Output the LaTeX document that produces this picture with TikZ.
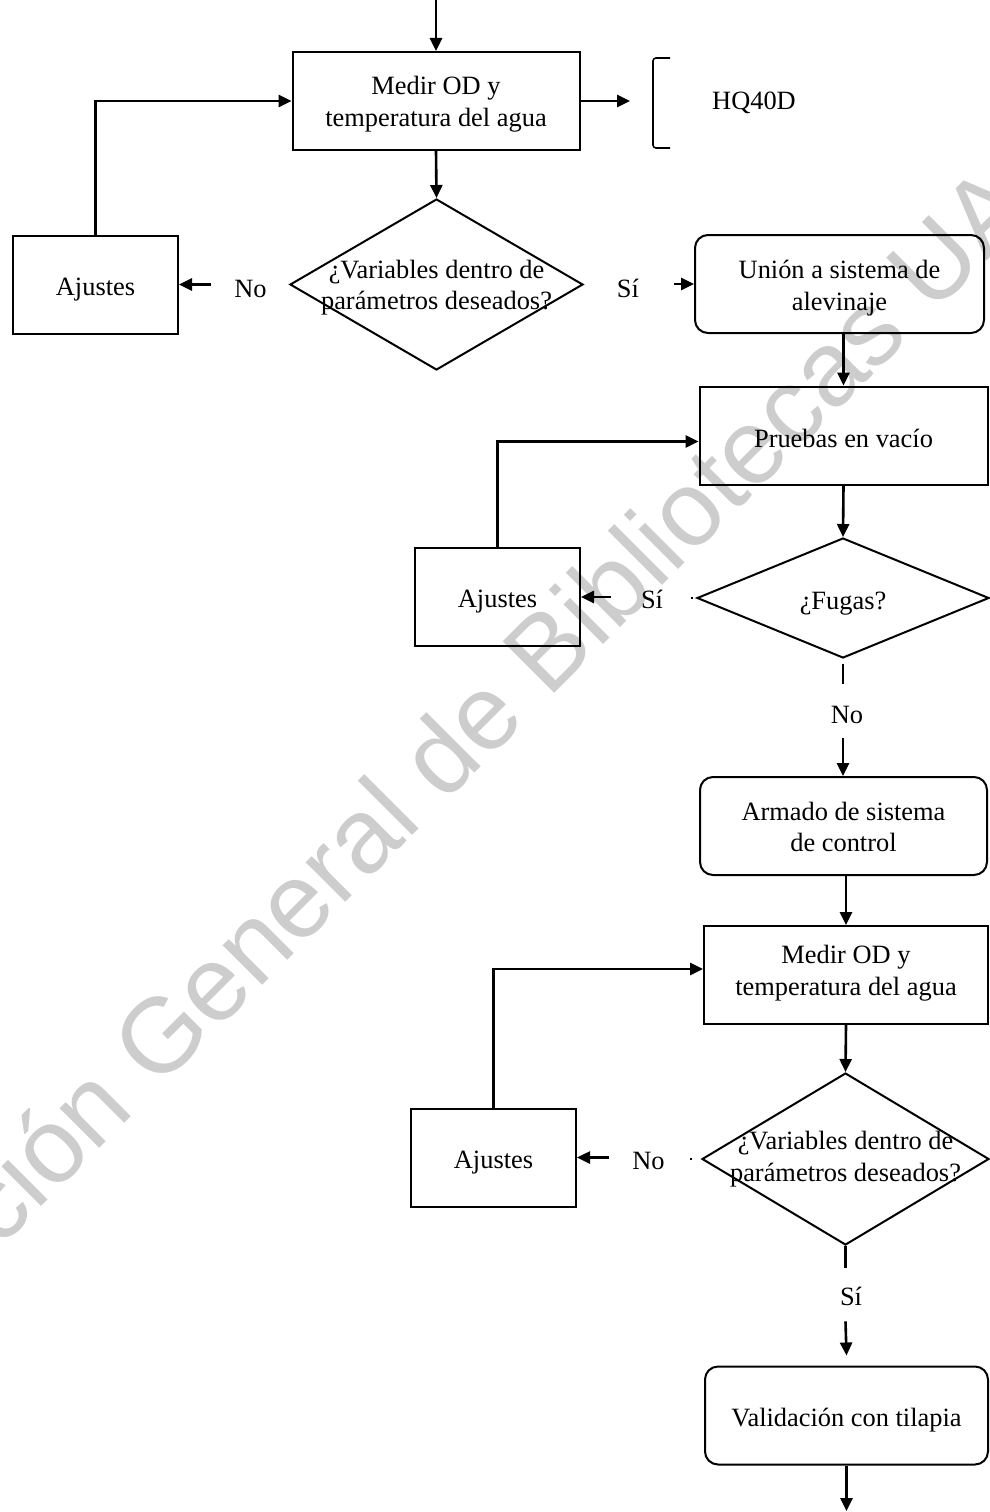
\documentclass[tikz,border=0pt]{standalone}
\usepackage{fontspec}
\setmainfont{Liberation Serif}
\newfontfamily\wmfont{Liberation Sans}
\usetikzlibrary{shapes.geometric,arrows.meta}
\definecolor{wmgray}{RGB}{205,205,205}
\begin{document}
\begin{tikzpicture}[x=1pt,y=1pt,
  txt/.style={font=\fontsize{26.4}{31.5}\selectfont,inner sep=0pt,align=center},
  procbox/.style={draw,line width=2pt,inner sep=0pt,minimum width=#1,minimum height=98pt},
  procbox/.default=287pt,
  roundbox/.style={procbox=#1,rounded corners=13pt},
  roundbox/.default=287pt,
  adjbox/.style={procbox=165pt},
  decision/.style={draw,line width=2pt,diamond,inner sep=0pt},
  lbl/.style={txt,anchor=base},
  flowarrow/.style={line width=2.6pt,-{Triangle[length=13pt,width=12pt]}},
  bareline/.style={line width=2.6pt},
  bracketline/.style={line width=1.6pt,rounded corners=3pt},
  wmark/.style={text=wmgray,font=\wmfont\fontsize{106}{106}\selectfont,inner sep=0pt,anchor=base west,rotate=45}
]
\useasboundingbox (0,0) rectangle (989,-1512);

% library watermark behind the chart
\begin{scope}
  \clip (0,0) rectangle (989,-1512);
  \node[wmark] (wm) at (-176,-1424) {Dirección General de Bibliotecas UAQ};
\end{scope}

% first measuring stage
\node[procbox] (box1) at (436,-101) {};
\node[txt] (box1t) at ([yshift=-3pt]box1.center) {Medir OD y\\temperatura del agua};
\node[decision,minimum width=293pt,minimum height=171pt] (dia1) at (436.5,-284.5) {};
\node[txt] (dia1t) at ([yshift=-3pt]dia1.center) {¿Variables dentro de\\parámetros deseados?};
\node[adjbox] (ajus1) at (95.5,-284.5) {};
\node[txt] (ajus1t) at ([yshift=-5pt]ajus1.center) {Ajustes};
\node[roundbox=289pt] (union) at (839.5,-284) {};
\node[txt] (uniont) at ([yshift=-4pt]union.center) {Unión a sistema de\\alevinaje};
\node[txt,anchor=base west] (hq) at (712,-109) {HQ40D};

% leak test
\node[procbox=288pt] (prueb) at (843.5,-435.5) {};
\node[txt] (pruebt) at ([yshift=-3pt]prueb.center) {Pruebas en vacío};
\node[adjbox] (ajus2) at (497.5,-597) {};
\node[txt] (ajus2t) at ([yshift=-5pt]ajus2.center) {Ajustes};
\node[decision,minimum width=292pt,minimum height=120pt] (fug) at (843,-598) {};
\node[txt] (fugt) at ([yshift=-6pt]fug.center) {¿Fugas?};

% control system and second measuring stage
\node[roundbox=287pt] (armado) at (843.5,-826) {};
\node[txt] (armadot) at ([yshift=-1pt]armado.center) {Armado de sistema\\de control};
\node[procbox=284pt] (medir2) at (846,-975) {};
\node[txt] (medir2t) at ([yshift=2pt]medir2.center) {Medir OD y\\temperatura del agua};
\node[decision,minimum width=287pt,minimum height=172pt] (dia3) at (845.5,-1159) {};
\node[txt] (dia3t) at (dia3.center) {¿Variables dentro de\\parámetros deseados?};
\node[adjbox] (ajus3) at (493.5,-1157.5) {};
\node[txt] (ajus3t) at ([yshift=-5pt]ajus3.center) {Ajustes};
\node[roundbox=283pt] (valid) at (846.5,-1415.5) {};
\node[txt] (validt) at ([yshift=-5pt]valid.center) {Validación con tilapia};

% branch labels
\node[lbl] (no1) at (250.5,-297) {No};
\node[lbl] (si1) at (628,-297) {Sí};
\node[lbl] (si2) at (652,-608) {Sí};
\node[lbl] (no2) at (847,-723) {No};
\node[lbl] (no3) at (648.5,-1169) {No};
\node[lbl] (si3) at (851,-1305) {Sí};

% free ends
\coordinate (entry) at (436,0);
\coordinate (toHQ) at (630,-101);
\coordinate (exit) at (846.5,-1511);

% instrument bracket
\draw[bracketline] (670,-58) -- (653,-58) -- (653,-148) -- (670,-148);

% connectors
\draw[flowarrow] (entry) -- (box1.north);
\draw[flowarrow] (box1.east) -- (toHQ);
\draw[flowarrow] (box1.south) -- (dia1.north);
\draw[flowarrow] ([xshift=-23pt]no1.west |- ajus1.east) -- (ajus1.east);
\draw[flowarrow] ([xshift=35pt]si1.east |- union.west) -- (union.west);
\draw[flowarrow] (ajus1.north) |- (box1.west);

\draw[flowarrow] (prueb.north |- union.south) -- (prueb.north);
\draw[flowarrow] (prueb.south) -- (fug.north);
\draw[flowarrow] ([xshift=-30pt]si2.west |- ajus2.east) -- (ajus2.east);
\draw[bareline] ([xshift=-3pt]fug.west) -- ++(-2.5,0);
\draw[flowarrow] (ajus2.north) |- ([yshift=-6pt]prueb.west);
\draw[bareline] ([yshift=-5pt]fug.south) -- ([yshift=-25pt]fug.south);
\draw[flowarrow] (fug.south |- no2.south) ++(0,-15) -- (fug.south |- armado.north);

\draw[flowarrow] (medir2.north |- armado.south) -- (medir2.north);
\draw[flowarrow] (medir2.south) -- (dia3.north);
\draw[flowarrow] ([xshift=-23pt]no3.west |- ajus3.east) -- (ajus3.east);
\draw[bareline] ([xshift=-9pt]dia3.west) -- ++(-2.5,0);
\draw[flowarrow] (ajus3.north) |- ([yshift=6pt]medir2.west);
\draw[bareline] (dia3.south) -- ([yshift=-22pt]dia3.south);
\draw[flowarrow] (dia3.south |- si3.south) ++(0,-16) -- ([yshift=10pt]valid.north);
\draw[flowarrow] (valid.south) -- (exit);
\end{tikzpicture}
\end{document}
